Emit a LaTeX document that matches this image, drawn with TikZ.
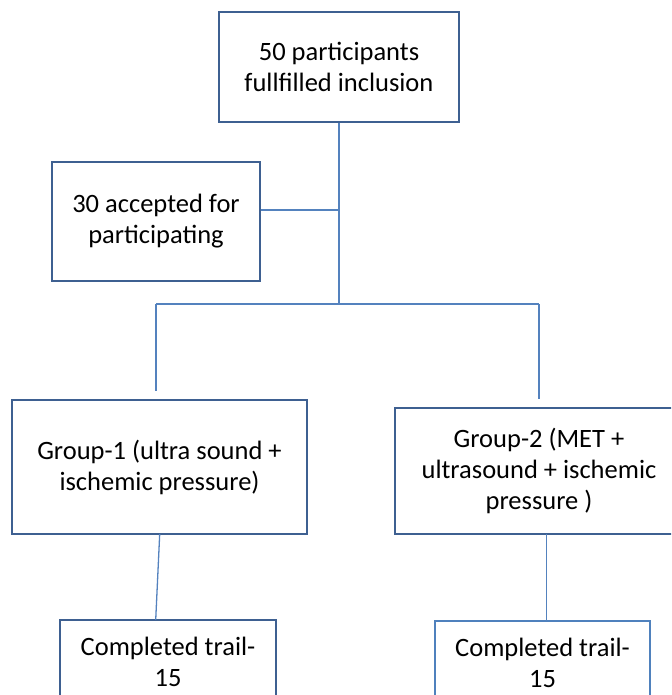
\documentclass[tikz,border=0pt]{standalone}
\usepackage{fontspec}
\setmainfont{Carlito}
\definecolor{boxblue}{RGB}{62,96,145}
\definecolor{lightbox}{RGB}{79,129,189}
\definecolor{linkblue}{RGB}{84,130,190}
\begin{document}
\begin{tikzpicture}[x=1pt,y=-1pt,
  flowbox/.style={draw=boxblue,line width=2.6pt,fill=white,align=center,inner sep=0pt,
    font=\fontsize{26.5}{31}\selectfont},
  link/.style={draw=linkblue,line width=1.3pt}]
\useasboundingbox (0,0) rectangle (671,695);
\clip (0,0) rectangle (671,695);
\node[flowbox,minimum width=240,minimum height=110] (top) at (339,67) {50 participants\\fullfilled inclusion};
\node[flowbox,minimum width=208,minimum height=119] (acc) at (156,221.5) {30 accepted for\\participating};
\node[flowbox,minimum width=295,minimum height=134] (g1) at (159.5,467) {Group-1 (ultra sound +\\ischemic pressure)};
\node[flowbox,minimum width=288,minimum height=126] (g2) at (539,471) {Group-2 (MET +\\ultrasound + ischemic\\pressure )};
\node[flowbox,minimum width=216,minimum height=84] (c1) at (168,662) {Completed trail-\\15};
\node[flowbox,draw=lightbox,line width=2.2pt,minimum width=215,minimum height=84] (c2) at (542.5,663) {Completed trail-\\15};
\coordinate (jacc) at (339,210);
\coordinate (jbr) at (339,304);
\coordinate (bl) at (156,304);
\coordinate (br) at (539,304);
\coordinate (bl2) at (156,391);
\coordinate (br2) at (539,399);
\coordinate (g1b) at (159.7,534);
\coordinate (c1t) at (155.7,620);
\coordinate (g2b) at (546.7,534);
\coordinate (c2t) at (546.7,621);
\draw[link] (top.south) -- (jbr);
\draw[link] (jacc -| acc.east) -- (jacc);
\draw[link] (bl) -- (br);
\draw[link] (bl) -- (bl2);
\draw[link] (br) -- (br2);
\draw[link] (g1b) -- (c1t);
\draw[link] (g2b) -- (c2t);
\end{tikzpicture}
\end{document}
